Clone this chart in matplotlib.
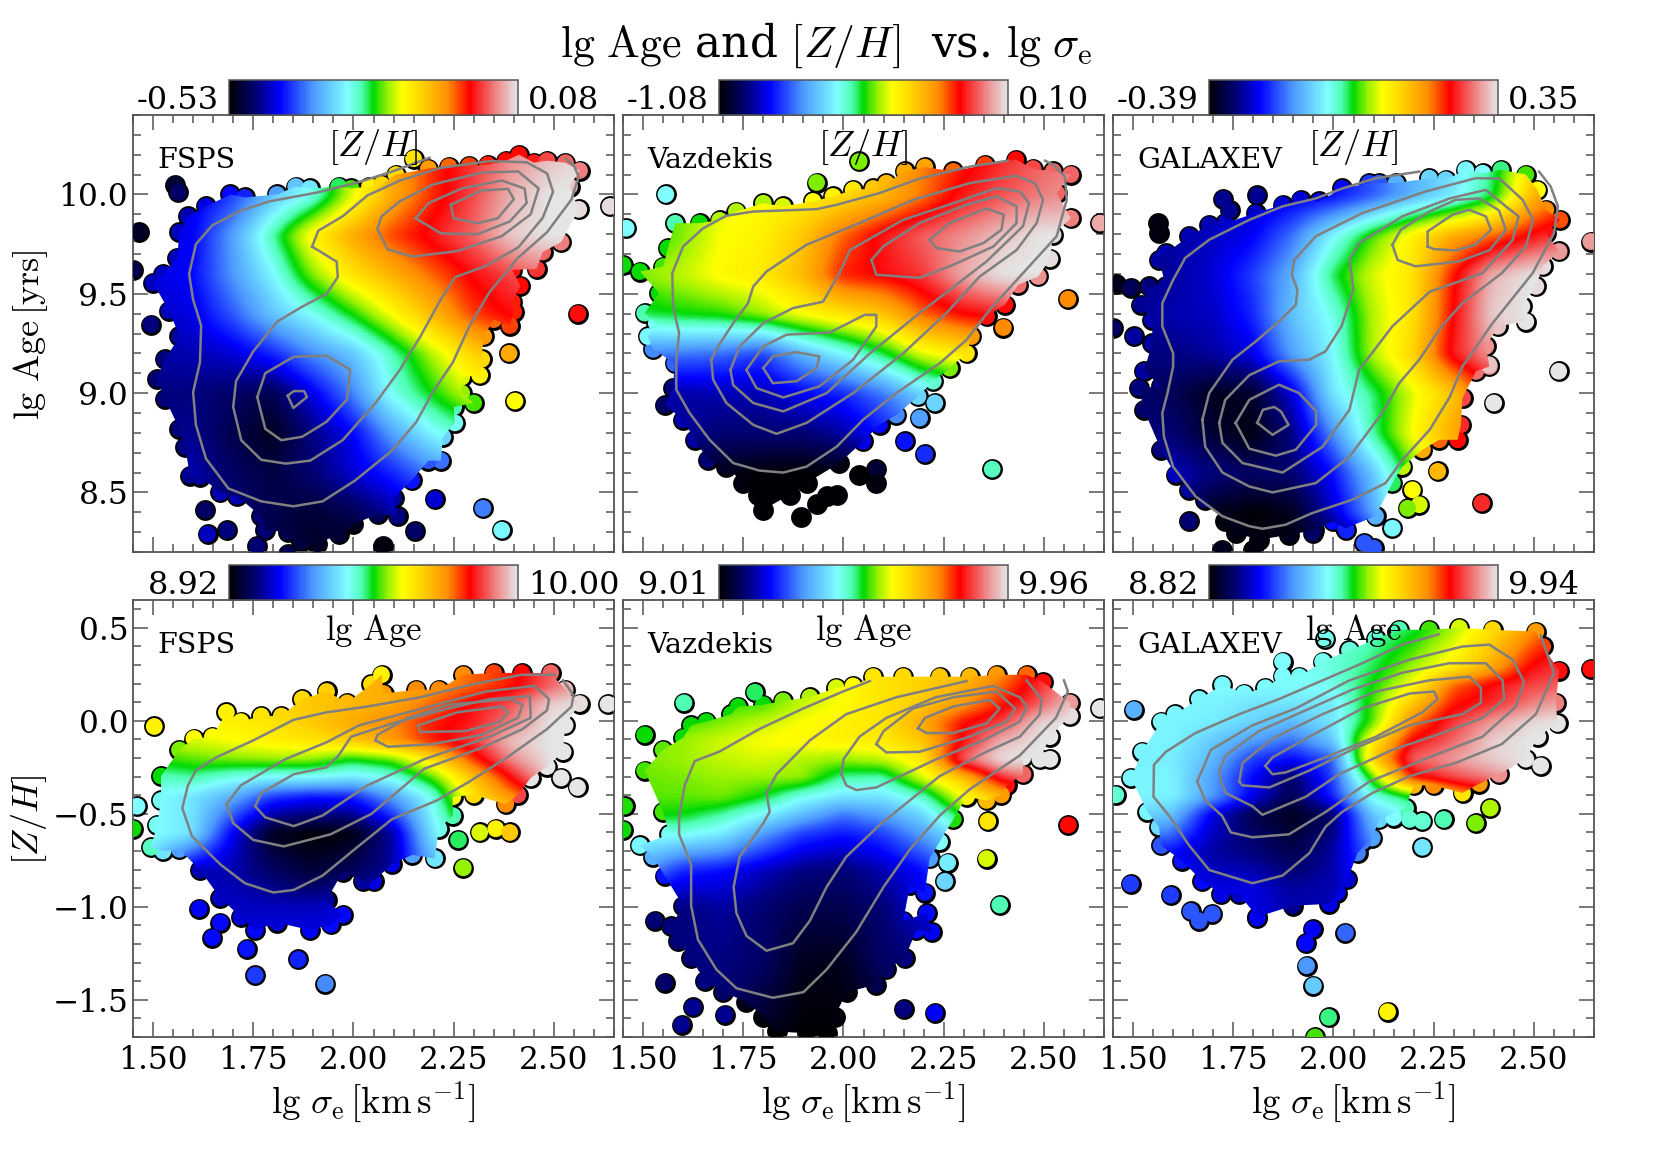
#plot.py
#six panels of lg Age and [Z/H] against lg sigma_e
import numpy as np
import matplotlib
matplotlib.use("Agg")
import matplotlib.pyplot as plt
from matplotlib.colors import LinearSegmentedColormap, Normalize
from matplotlib.cm import ScalarMappable
from matplotlib.path import Path
from matplotlib.ticker import MultipleLocator

plt.rcParams["font.family"] = "DejaVu Serif"
plt.rcParams["mathtext.fontset"] = "cm"

#colour values below are positions along the colourbar, 0 to 100
FIELD_X = [1.48, 1.6, 1.7, 1.8, 1.9, 2.0, 2.1, 2.2, 2.3, 2.4, 2.5, 2.6]

#### top left: FSPS, lg Age, coloured by [Z/H]
A1_Y = [8.2, 8.4, 8.6, 8.8, 9.0, 9.2, 9.4, 9.6, 9.8, 10.0, 10.25]
A1_FIELD = [
    [10,10,9,6,3,3,6,10,14,18,20,22],
    [10,11,10,6,4,6,12,18,24,28,30,32],
    [12,13,8,5,9,15,20,27,33,36,38,40],
    [11,11,6,2,10,17,30,40,46,50,52,54],
    [10,10,8,6,16,27,42,50,58,62,64,66],
    [12,13,15,20,28,34,45,56,66,74,78,80],
    [14,16,24,34,41,50,60,70,80,84,86,88],
    [15,18,29,40,54,64,71,78,84,88,92,95],
    [14,17,30,46,62,72,80,85,90,98,100,100],
    [16,16,22,34,42,58,72,81,88,96,100,100],
    [16,16,22,34,42,58,72,81,86,92,96,100]]
A1_EDGE = [(1.587,9.89,13),(1.632,9.94,16),(1.693,10.0,18),(1.729,9.985,20),(1.809,10.0,30),(1.856,10.04,34),
    (1.891,10.03,38),(1.963,10.04,48),(1.994,10.03,52),(2.04,10.04,62),(2.07,10.05,66),(2.106,10.10,66),
    (2.187,10.13,74),(2.238,10.14,78),(2.289,10.145,80),(2.335,10.15,82),(2.38,10.17,83),(2.413,10.2,83),
    (2.45,10.16,85),(2.483,10.17,88),(2.529,10.16,90),(2.564,10.12,92),(2.539,10.04,97),(2.562,9.925,99),
    (2.518,9.76,92),(2.472,9.71,90),(2.457,9.625,87),(2.396,9.62,84),(2.416,9.54,83),(2.396,9.46,82),
    (2.40,9.41,82),(2.39,9.34,80),(2.35,9.37,78),(2.325,9.285,74),(2.32,9.17,66),(2.315,9.09,62),
    (2.27,9.08,58),(2.27,9.0,55),(2.30,8.95,52),(2.25,8.93,46),(2.253,8.85,42),(2.223,8.78,36),
    (2.218,8.66,26),(2.187,8.66,24),(2.145,8.56,19),(2.10,8.47,12),(2.11,8.38,10),(2.06,8.39,7),
    (2.0,8.34,2),(1.963,8.29,4),(1.91,8.24,3),(1.87,8.25,5),(1.836,8.30,6),(1.78,8.31,9),(1.77,8.38,9),
    (1.71,8.48,13),(1.668,8.50,13),(1.617,8.58,12),(1.592,8.585,11),(1.58,8.73,10),(1.566,8.82,10),
    (1.53,8.97,9),(1.51,9.07,9),(1.53,9.17,10),(1.566,9.285,12),(1.54,9.415,14),(1.50,9.555,14),
    (1.525,9.60,14),(1.56,9.68,14),(1.566,9.81,14)]
A1_OUT = [(1.556,10.05,4),(1.563,10.01,8),(1.464,9.81,3),(1.45,9.62,6),(1.495,9.345,10),(2.15,10.18,64),
    (2.64,9.94,99),(2.56,9.40,84),(2.388,9.2,72),(2.403,8.96,60),(2.323,8.42,27),(2.37,8.31,40),
    (2.203,8.465,15),(2.154,8.305,8),(2.073,8.23,1),(1.63,8.41,8),(1.636,8.29,14),(1.685,8.31,10),
    (1.76,8.23,9),(1.836,8.19,6)]
A1_LINES = [
    [(2.19,10.185),(2.096,10.115),(2.01,10.06),(1.91,10.01),(1.79,9.965),(1.72,9.92),(1.648,9.845),(1.607,9.75),
     (1.59,9.60),(1.60,9.47),(1.62,9.34),(1.617,9.155),(1.60,9.005),(1.607,8.84),(1.632,8.67),(1.688,8.52),
     (1.77,8.455),(1.85,8.43),(1.923,8.455),(2.004,8.56),(2.096,8.71),(2.157,8.855),(2.198,9.005),(2.248,9.155),
     (2.29,9.34),(2.34,9.51),(2.41,9.68),(2.483,9.81),(2.544,9.975),(2.562,10.09),(2.55,10.145),(2.53,10.18)],
    [(1.897,9.737),(1.912,9.817),(1.973,9.89),(2.035,9.995),(2.116,10.07),(2.218,10.134),(2.34,10.168),(2.432,10.162),
     (2.483,10.106),(2.498,10.013),(2.472,9.882),(2.411,9.733),(2.33,9.64),(2.254,9.584),(2.218,9.472),(2.167,9.285),
     (2.116,9.118),(2.055,8.95),(1.973,8.763),(1.892,8.66),(1.831,8.645),(1.77,8.664),(1.72,8.763),(1.70,8.93),
     (1.707,9.06),(1.75,9.21),(1.81,9.36),(1.872,9.435),(1.933,9.50),(1.961,9.584),(1.958,9.662),(1.897,9.737)],
    [(2.06,9.826),(2.07,9.89),(2.116,9.966),(2.198,10.05),(2.32,10.11),(2.411,10.116),(2.462,10.03),(2.442,9.90),
     (2.37,9.79),(2.259,9.715),(2.147,9.687),(2.085,9.724),(2.06,9.826)],
    [(1.76,8.98),(1.78,9.10),(1.851,9.183),(1.933,9.188),(1.992,9.118),(1.984,8.968),(1.933,8.856),(1.872,8.78),
     (1.82,8.763),(1.78,8.82),(1.76,8.98)],
    [(2.155,9.88),(2.188,9.957),(2.27,10.03),(2.37,10.07),(2.427,10.03),(2.432,9.957),(2.39,9.864),(2.31,9.80),
     (2.218,9.804),(2.155,9.88)],
    [(2.243,9.948),(2.32,10.02),(2.386,10.028),(2.40,9.976),(2.36,9.88),(2.31,9.855),(2.25,9.88),(2.243,9.948)],
    [(1.836,8.987),(1.851,9.01),(1.877,9.01),(1.884,8.98),(1.85,8.925),(1.836,8.987)]]

#### top middle: Vazdekis
A2_Y = [8.2, 8.4, 8.6, 8.8, 9.0, 9.2, 9.4, 9.6, 9.8, 10.0, 10.25]
A2_FIELD = [
    [4,3,2,0,0,0,1,6,10,14,16,18],
    [6,4,1,0,0,0,2,8,14,18,20,22],
    [10,8,2,0,0,1,10,18,24,28,30,32],
    [12,12,9,9,9,12,19,24,30,34,36,38],
    [14,12,13,13,17,20,26,36,42,46,48,50],
    [27,26,25,22,32,40,48,58,63,68,70,72],
    [48,50,51,55,60,64,68,78,83,85,88,90],
    [54,57,61,63,70,82,84,87,95,100,100,100],
    [50,54,60,62,68,78,85,90,93,97,100,100],
    [52,54,58,60,62,65,70,77,85,89,92,94],
    [54,54,56,58,60,64,70,76,80,85,89,92]]
A2_EDGE = [(1.58,9.855,46),(1.641,9.856,50),(1.691,9.87,56),(1.733,9.914,56),(1.80,9.956,56),(1.849,9.94,58),
    (1.924,9.965,60),(1.974,9.99,62),(2.024,10.023,64),(2.074,10.03,68),(2.107,10.057,70),(2.153,10.116,72),
    (2.203,10.138,73),(2.274,10.116,78),(2.353,10.15,80),(2.43,10.175,83),(2.473,10.13,88),(2.523,10.116,90),
    (2.567,10.1,90),(2.532,10.007,90),(2.567,9.88,92),(2.523,9.797,99),(2.515,9.676,99),(2.486,9.587,93),
    (2.436,9.545,91),(2.403,9.445,84),(2.357,9.386,84),(2.319,9.285,74),(2.307,9.20,64),(2.265,9.126,54),
    (2.224,9.06,44),(2.186,8.983,36),(2.132,8.89,28),(2.09,8.84,18),(2.049,8.757,16),(1.99,8.648,1),
    (1.908,8.547,0),(1.866,8.488,0),(1.80,8.413,0),(1.788,8.488,0),(1.75,8.547,1),(1.708,8.63,3),
    (1.662,8.664,9),(1.629,8.765,12),(1.60,8.866,13),(1.554,8.94,8),(1.575,9.025,10),(1.579,9.15,25),
    (1.525,9.22,28),(1.512,9.285,40),(1.533,9.352,42),(1.504,9.403,46),(1.54,9.503,50),(1.492,9.612,50),
    (1.55,9.637,52),(1.562,9.73,50)]
A2_OUT = [(1.557,10.0,41),(1.458,9.83,41),(1.45,9.645,50),(1.933,10.06,54),(2.039,10.166,54),(2.64,9.856,95),
    (2.56,9.473,76),(2.399,9.33,76),(2.228,8.95,36),(2.19,8.874,30),(2.153,8.757,19),(2.203,8.693,21),
    (2.371,8.617,45),(2.082,8.617,4),(2.04,8.59,0),(2.082,8.547,1),(1.983,8.488,0),(1.958,8.48,0),
    (1.934,8.443,0),(1.893,8.374,0)]
A2_LINES = [
    [(2.41,10.17),(2.315,10.14),(2.19,10.08),(2.09,10.007),(1.983,9.948),(1.933,9.926),(1.858,9.92),(1.775,9.914),
     (1.708,9.893),(1.65,9.83),(1.60,9.738),(1.573,9.604),(1.575,9.436),(1.59,9.302),(1.583,9.168),(1.583,9.017),
     (1.616,8.90),(1.666,8.765),(1.725,8.648),(1.79,8.61),(1.85,8.60),(1.908,8.63),(1.983,8.73),(2.049,8.866),
     (2.132,9.0),(2.24,9.15),(2.307,9.268),(2.365,9.42),(2.448,9.604),(2.532,9.79),(2.557,9.973),(2.552,10.09),
     (2.523,10.15),(2.503,10.17)],
    [(1.67,9.168),(1.687,9.235),(1.725,9.352),(1.762,9.453),(1.775,9.537),(1.808,9.612),(1.908,9.747),(2.04,9.856),
     (2.174,9.973),(2.315,10.057),(2.43,10.094),(2.478,10.057),(2.498,9.973),(2.482,9.856),(2.432,9.72),(2.34,9.587),
     (2.257,9.403),(2.149,9.2),(2.024,9.0),(1.908,8.85),(1.833,8.795),(1.775,8.84),(1.708,8.95),(1.675,9.067),(1.67,9.168)],
    [(1.718,9.117),(1.741,9.235),(1.80,9.352),(1.874,9.428),(1.949,9.46),(1.99,9.604),(2.016,9.72),(2.149,9.872),
     (2.274,9.956),(2.382,10.032),(2.44,10.015),(2.463,9.956),(2.448,9.84),(2.357,9.663),(2.19,9.403),(2.066,9.2),
     (1.958,9.0),(1.85,8.908),(1.775,8.95),(1.725,9.04),(1.718,9.117)],
    [(2.07,9.67),(2.10,9.74),(2.19,9.856),(2.307,9.948),(2.382,9.99),(2.432,9.94),(2.432,9.856),(2.374,9.738),
     (2.274,9.646),(2.19,9.58),(2.082,9.596),(2.07,9.67)],
    [(1.758,9.117),(1.80,9.235),(1.858,9.294),(1.966,9.305),(2.053,9.394),(2.082,9.394),(2.082,9.335),(2.024,9.168),
     (1.94,9.034),(1.85,8.978),(1.783,9.025),(1.758,9.117)],
    [(2.215,9.772),(2.265,9.856),(2.357,9.93),(2.40,9.898),(2.394,9.822),(2.349,9.755),(2.29,9.713),(2.232,9.73),(2.215,9.772)],
    [(1.80,9.126),(1.824,9.185),(1.883,9.206),(1.94,9.185),(1.933,9.126),(1.883,9.06),(1.824,9.05),(1.80,9.126)]]

#### top right: GALAXEV
A3_Y = [8.2, 8.4, 8.6, 8.8, 9.0, 9.2, 9.4, 9.6, 9.8, 10.0, 10.25]
A3_FIELD = [
    [10,10,6,2,1,2,10,22,30,36,40,44],
    [10,12,2,0,2,14,30,54,58,62,66,70],
    [12,14,10,8,9,18,34,52,62,70,74,78],
    [10,9,4,1,10,28,46,60,72,80,84,86],
    [9,7,2,3,15,38,47,58,68,82,90,94],
    [10,10,12,16,30,40,56,66,85,94,100,100],
    [11,13,14,20,34,42,56,64,83,98,100,100],
    [10,12,15,22,32,48,58,64,82,96,100,100],
    [10,12,14,17,26,40,52,62,72,78,84,90],
    [12,12,13,14,16,18,24,32,38,48,70,78],
    [12,12,13,14,16,18,24,32,38,46,60,78]]
A3_EDGE = [(1.565,9.67,12),(1.582,9.705,13),(1.64,9.79,13),(1.69,9.847,13),(1.73,9.856,14),(1.806,9.906,14),
    (1.873,9.948,15),(1.918,9.973,15),(1.964,9.965,16),(2.022,10.03,18),(2.089,10.057,22),(2.114,10.057,24),
    (2.156,10.057,32),(2.239,10.082,36),(2.28,10.074,36),(2.33,10.124,40),(2.372,10.107,41),(2.418,10.124,47),
    (2.48,10.1,52),(2.509,10.023,60),(2.53,9.923,76),(2.565,9.872,79),(2.53,9.805,84),(2.563,9.713,94),
    (2.522,9.638,99),(2.505,9.537,99),(2.47,9.436,100),(2.48,9.36,100),(2.41,9.336,97),(2.38,9.235,93),
    (2.389,9.134,94),(2.355,9.109,91),(2.322,8.975,88),(2.318,8.84,86),(2.31,8.765,83),(2.264,8.765,78),
    (2.222,8.715,72),(2.172,8.63,57),(2.147,8.547,48),(2.105,8.38,32),(2.03,8.32,20),(1.998,8.354,18),
    (1.952,8.31,5),(1.89,8.287,2),(1.815,8.262,1),(1.756,8.295,1),(1.73,8.354,1),(1.68,8.463,10),(1.64,8.513,12),
    (1.606,8.59,14),(1.57,8.715,10),(1.527,8.916,8),(1.515,9.025,10),(1.57,9.034,12),(1.527,9.11,12),(1.548,9.25,12),
    (1.548,9.37,13),(1.52,9.445,11),(1.54,9.537,10),(1.582,9.537,12)]
A3_OUT = [(1.563,9.856,1),(1.565,9.805,1),(1.457,9.55,2),(1.494,9.53,7),(1.503,9.285,12),(1.45,9.327,8),
    (1.725,9.977,11),(1.741,9.92,11),(1.81,9.995,11),(2.642,9.763,94),(2.562,9.11,100),(2.40,8.95,100),
    (2.388,9.143,97),(2.37,8.446,86),(2.147,8.32,40),(2.032,8.31,20),(2.077,8.245,24),(2.10,8.22,24),
    (1.64,8.354,9),(1.948,8.295,8),(1.80,8.21,1),(1.723,8.21,2),(2.26,8.606,70),(2.197,8.513,60),(2.214,8.438,58),(2.185,8.42,54)]
A3_LINES = [
    [(2.214,10.115),(2.106,10.082),(2.022,10.03),(1.956,9.98),(1.873,9.94),(1.79,9.872),(1.69,9.772),(1.63,9.68),
     (1.6,9.57),(1.573,9.453),(1.573,9.336),(1.6,9.2),(1.60,9.134),(1.586,9.0),(1.573,8.9),(1.577,8.78),(1.6,8.63),
     (1.656,8.48),(1.723,8.38),(1.79,8.33),(1.823,8.317),(1.88,8.337),(1.947,8.396),(2.047,8.463),(2.13,8.547),
     (2.172,8.664),(2.24,8.815),(2.29,8.98),(2.322,9.134),(2.397,9.352),(2.497,9.604),(2.55,9.805),(2.56,9.94),
     (2.542,10.04),(2.513,10.115)],
    [(1.673,8.866),(1.69,9.0),(1.748,9.168),(1.806,9.26),(1.864,9.36),(1.906,9.445),(1.91,9.52),(1.896,9.596),
     (1.902,9.67),(1.956,9.79),(2.072,9.906),(2.23,10.015),(2.355,10.082),(2.414,10.08),(2.472,9.973),(2.498,9.872),
     (2.48,9.738),(2.42,9.604),(2.322,9.453),(2.27,9.336),(2.214,9.168),(2.164,9.05),(2.122,8.9),(2.04,8.68),
     (1.956,8.547),(1.848,8.5),(1.79,8.53),(1.723,8.6),(1.68,8.73),(1.673,8.866)],
    [(1.715,8.85),(1.73,8.966),(1.79,9.09),(1.864,9.16),(1.94,9.168),(1.98,9.21),(2.02,9.336),(2.05,9.52),(2.04,9.67),
     (2.064,9.755),(2.172,9.89),(2.29,9.98),(2.38,10.023),(2.43,9.94),(2.462,9.89),(2.447,9.77),(2.372,9.604),
     (2.24,9.51),(2.147,9.336),(2.064,9.117),(2.04,8.916),(1.973,8.73),(1.873,8.6),(1.773,8.648),(1.723,8.75),(1.715,8.85)],
    [(2.147,9.747),(2.168,9.822),(2.239,9.914),(2.305,9.973),(2.364,9.98),(2.413,9.92),(2.43,9.822),(2.39,9.72),
     (2.314,9.663),(2.205,9.638),(2.16,9.67),(2.147,9.747)],
    [(1.756,8.85),(1.79,8.966),(1.864,9.042),(1.914,9.0),(1.957,8.908),(1.957,8.84),(1.906,8.715),(1.856,8.685),
     (1.79,8.72),(1.756,8.85)],
    [(2.235,9.738),(2.235,9.814),(2.297,9.898),(2.338,9.923),(2.38,9.89),(2.393,9.822),(2.355,9.747),(2.305,9.718),
     (2.25,9.725),(2.235,9.738)],
    [(1.81,8.85),(1.824,8.916),(1.852,8.93),(1.869,8.908),(1.888,8.84),(1.848,8.79),(1.81,8.85)]]

#### bottom left: FSPS, [Z/H], coloured by lg Age
Z1_Y = [-1.3, -1.0, -0.8, -0.6, -0.4, -0.3, -0.2, -0.1, 0, 0.1, 0.2, 0.3]
Z1_FIELD = [
    [18,18,18,18,18,18,18,18,20,22,24,26],
    [15,15,14,14,14,16,20,24,28,32,34,36],
    [38,13,13,8,4,7,12,30,40,45,50,52],
    [42,38,17,2,0,1,12,38,50,58,62,66],
    [42,38,32,22,19,20,30,42,64,75,86,92],
    [44,46,42,40,40,38,42,52,68,84,99,100],
    [50,53,54,55,55,50,53,64,80,93,100,100],
    [56,58,60,62,64,68,74,82,87,97,100,100],
    [60,60,62,64,68,72,76,82,85,92,100,100],
    [60,62,64,66,68,70,72,78,84,89,98,100],
    [60,62,64,66,68,70,72,74,78,82,90,96],
    [60,62,64,66,68,70,72,74,78,82,90,96]]
Z1_EDGE = [(1.52,-0.297,50),(1.566,-0.156,54),(1.602,-0.095,60),(1.648,-0.085,60),(1.683,0.046,62),(1.719,-0.004,62),
    (1.77,0.026,64),(1.82,0.026,66),(1.872,0.117,66),(1.933,0.158,67),(1.984,0.097,70),(2.045,0.198,66),
    (2.07,0.248,62),(2.075,0.147,74),(2.157,0.168,76),(2.213,0.168,76),(2.274,0.248,76),(2.35,0.258,80),
    (2.42,0.258,83),(2.492,0.258,90),(2.528,0.168,96),(2.564,0.093,99),(2.528,-0.024,100),(2.523,-0.166,100),
    (2.483,-0.246,100),(2.442,-0.307,100),(2.41,-0.398,88),(2.38,-0.448,76),
    (2.30,-0.398,66),(2.248,-0.408,60),(2.248,-0.51,46),(2.213,-0.58,42),(2.203,-0.74,38),(2.147,-0.72,30),
    (2.096,-0.77,16),(2.05,-0.863,16),(2.024,-0.863,12),(1.973,-0.812,9),(1.933,-0.964,11),(1.974,-1.044,18),
    (1.943,-1.095,18),(1.892,-1.125,17),(1.81,-1.085,15),(1.755,-1.125,18),(1.719,-1.055,15),(1.668,-0.953,14),
    (1.617,-0.802,13),(1.566,-0.691,30),(1.525,-0.70,38),(1.495,-0.68,45),(1.51,-0.56,42),(1.52,-0.428,42)]
Z1_OUT = [(1.503,-0.03,62),(1.46,-0.459,41),(1.45,-0.58,50),(2.635,0.09,100),(2.315,-0.60,58),(2.355,-0.58,62),
    (2.39,-0.60,68),(2.262,-0.64,48),(2.274,-0.79,55),(1.615,-1.01,17),(1.668,-1.085,18),(1.648,-1.166,18),
    (1.734,-1.226,19),(1.862,-1.283,20),(1.755,-1.368,22),(1.93,-1.414,28),(2.518,-0.307,100),(2.559,-0.358,100)]
Z1_LINES = [
    [(2.503,0.248),(2.42,0.248),(2.30,0.198),(2.167,0.127),(2.035,0.077),(1.933,0.046),(1.851,0.006),(1.75,-0.105),
     (1.658,-0.196),(1.607,-0.267),(1.587,-0.347),(1.573,-0.469),(1.597,-0.62),(1.668,-0.772),(1.729,-0.873),(1.80,-0.923),
     (1.851,-0.909),(1.923,-0.832),(2.014,-0.671),(2.096,-0.529),(2.208,-0.428),(2.289,-0.327),(2.39,-0.186),(2.483,-0.044),
     (2.544,0.077),(2.549,0.137),(2.523,0.218)],
    [(1.683,-0.448),(1.719,-0.347),(1.83,-0.206),(1.933,-0.115),(2.014,-0.024),(2.33,0.158),(2.452,0.188),(2.488,0.117),
     (2.483,0.057),(2.422,-0.044),(2.32,-0.145),(2.177,-0.257),(2.045,-0.5),(1.943,-0.61),(1.826,-0.675),(1.75,-0.64),
     (1.70,-0.55),(1.683,-0.448)],
    [(1.755,-0.459),(1.77,-0.388),(1.851,-0.287),(1.933,-0.25),(1.963,-0.186),(1.994,-0.085),(2.096,-0.014),(2.238,0.067),
     (2.34,0.117),(2.44,0.133),(2.442,0.016),(2.34,-0.085),(2.177,-0.206),(2.035,-0.347),(1.923,-0.509),(1.851,-0.566),
     (1.78,-0.519),(1.755,-0.459)],
    [(2.055,-0.105),(2.06,-0.075),(2.136,0.016),(2.238,0.087),(2.39,0.117),(2.422,0.087),(2.41,0.016),(2.32,-0.075),
     (2.198,-0.125),(2.086,-0.139),(2.055,-0.105)],
    [(2.162,-0.024),(2.259,0.046),(2.37,0.077),(2.386,0.046),(2.366,-0.004),(2.279,-0.055),(2.167,-0.06),(2.162,-0.024)]]

#### bottom middle: Vazdekis
Z2_Y = [-1.7, -1.3, -1.0, -0.8, -0.6, -0.5, -0.4, -0.3, -0.2, -0.1, 0, 0.1, 0.3]
Z2_FIELD = [
    [12,12,8,2,0,0,0,0,2,4,6,8],
    [10,10,10,8,2,2,8,9,10,12,14,16],
    [10,10,12,9,6,6,9,16,18,20,22,24],
    [32,20,18,14,10,9,13,18,28,30,32,34],
    [42,42,39,30,22,19,22,30,40,44,50,54],
    [50,50,46,40,33,26,30,36,50,60,64,66],
    [53,53,54,50,42,38,38,44,60,70,80,84],
    [53,54,55,55,55,46,45,58,68,86,94,100],
    [54,55,57,58,56,55,57,63,90,100,100,100],
    [54,55,58,60,61,62,63,68,84,96,100,100],
    [52,52,54,57,60,62,64,72,83,88,99,100],
    [50,50,52,52,57,60,64,68,74,82,90,100],
    [50,50,52,52,57,60,64,66,68,74,84,94]]
Z2_EDGE = [(1.504,-0.267,52),(1.55,-0.156,53),(1.60,-0.09,50),(1.62,-0.024,50),(1.658,-0.004,50),(1.72,0.036,50),(1.737,0.077,50),
    (1.80,0.087,50),(1.849,0.107,54),(1.916,0.127,56),(1.982,0.178,58),(2.024,0.188,60),(2.074,0.238,64),
    (2.149,0.238,66),(2.24,0.238,68),(2.315,0.238,70),(2.382,0.248,74),(2.457,0.248,78),(2.498,0.208,84),
    (2.565,0.097,94),(2.565,0.026,99),(2.515,-0.085,100),(2.49,-0.206,100),(2.448,-0.196,100),(2.448,-0.287,90),
    (2.407,-0.347,84),(2.394,-0.398,74),(2.357,-0.428,70),(2.307,-0.408,62),(2.274,-0.529,51),
    (2.24,-0.65,41),(2.215,-0.74,30),(2.203,-0.923,19),(2.166,-0.883,18),(2.149,-1.075,18),(2.208,-1.034,18),
    (2.22,-1.135,17),(2.182,-1.125,18),(2.153,-1.277,10),(2.107,-1.337,8),(2.082,-1.418,6),(2.008,-1.459,1),
    (1.978,-1.59,1),(1.958,-1.68,0),(1.908,-1.68,0),(1.833,-1.67,0),(1.80,-1.59,1),(1.758,-1.51,2),(1.70,-1.459,8),
    (1.654,-1.398,10),(1.62,-1.277,9),(1.587,-1.186,9),(1.57,-1.105,10),(1.60,-0.994,11),(1.554,-0.832,19),
    (1.525,-0.731,32),(1.492,-0.67,40),(1.566,-0.61,42),(1.55,-0.489,52)]
Z2_OUT = [(1.602,0.097,46),(1.779,0.154,48),(1.504,-0.075,50),(1.454,-0.459,51),(1.45,-0.586,50),(2.64,0.067,100),
    (2.561,-0.56,83),(2.357,-0.741,58),(2.26,-0.762,39),(2.253,-0.863,36),(2.39,-0.99,46),(2.515,-0.206,100),
    (1.529,-1.075,9),(1.554,-1.408,8),(2.15,-1.55,10),(2.228,-1.57,17),(1.596,-1.634,11),(1.625,-1.54,11),(1.704,-1.58,11),
    (2.36,-0.54,64)]
Z2_LINES = [
    [(2.066,0.214),(1.999,0.158),(1.90,0.067),(1.79,-0.044),(1.69,-0.166),(1.629,-0.216),(1.604,-0.347),(1.59,-0.51),
     (1.59,-0.61),(1.62,-0.772),(1.62,-0.994),(1.637,-1.176),(1.683,-1.337),(1.733,-1.438),(1.824,-1.489),(1.90,-1.459),
     (1.958,-1.337),(2.032,-1.135),(2.10,-0.893),(2.166,-0.691),(2.24,-0.51),(2.315,-0.368),(2.44,-0.186),(2.53,0.016),
     (2.56,0.158),(2.55,0.218)],
    [(2.307,0.214),(2.132,0.127),(2.007,0.036),(1.916,-0.105),(1.833,-0.287),(1.808,-0.388),(1.816,-0.489),(1.80,-0.55),
     (1.741,-0.731),(1.726,-0.893),(1.733,-1.034),(1.758,-1.156),(1.808,-1.236),(1.874,-1.196),(1.916,-1.075),(1.958,-0.893),
     (2.007,-0.731),(2.09,-0.56),(2.24,-0.297),(2.357,-0.166),(2.44,-0.085),(2.49,0.036),(2.494,0.117),(2.457,0.218)],
    [(1.995,-0.287),(2.0,-0.206),(2.04,-0.085),(2.107,0.016),(2.23,0.127),(2.374,0.188),(2.44,0.127),(2.458,0.077),
     (2.44,-0.004),(2.349,-0.105),(2.232,-0.206),(2.082,-0.358),(2.032,-0.372),(2.007,-0.347),(1.995,-0.287)],
    [(2.082,-0.125),(2.10,-0.055),(2.174,0.067),(2.274,0.127),(2.382,0.158),(2.428,0.067),(2.407,-0.004),(2.315,-0.085),
     (2.19,-0.166),(2.107,-0.17),(2.082,-0.125)],
    [(2.186,-0.04),(2.203,0.016),(2.274,0.077),(2.365,0.113),(2.39,0.067),(2.357,-0.014),(2.274,-0.065),(2.207,-0.065),(2.186,-0.04)]]

#### bottom right: GALAXEV
Z3_Y = [-1.2, -0.9, -0.7, -0.5, -0.4, -0.3, -0.2, -0.1, 0, 0.1, 0.2, 0.3, 0.52]
Z3_FIELD = [
    [20,20,18,16,14,14,14,20,30,40,46,50],
    [20,20,16,16,12,13,20,34,44,54,60,64],
    [22,18,12,10,6,12,26,40,50,60,70,80],
    [38,34,16,6,2,8,34,42,52,68,78,90],
    [40,40,30,17,6,20,42,50,70,80,90,100],
    [40,40,30,18,8,22,52,82,88,92,100,100],
    [40,39,33,22,18,24,66,90,94,98,100,100],
    [40,40,35,30,26,34,62,84,90,98,100,100],
    [40,40,39,36,33,38,52,76,87,94,99,100],
    [40,40,40,38,38,38,52,68,82,86,92,96],
    [41,41,41,41,41,42,50,60,78,84,88,90],
    [41,41,41,41,41,43,48,55,62,72,84,88],
    [41,41,41,41,42,43,44,48,55,64,74,84]]
Z3_EDGE = [(1.495,-0.307,40),(1.523,-0.166,40),(1.57,-0.004,40),(1.605,0.036,40),(1.665,0.117,40),(1.723,0.194,40),
    (1.777,0.147,40),(1.83,0.178,41),(1.873,0.24,41),(1.915,0.238,42),(1.973,0.319,42),(2.04,0.38,43),
    (2.106,0.44,44),(2.164,0.49,46),(2.239,0.49,52),(2.314,0.50,58),(2.397,0.49,66),(2.505,0.48,74),(2.522,0.40,80),
    (2.563,0.27,84),(2.555,0.097,92),(2.559,-0.014,100),(2.51,-0.085,100),(2.48,-0.206,100),(2.413,-0.287,93),
    (2.364,-0.337,74),(2.322,-0.388,64),(2.25,-0.347,76),(2.20,-0.347,70),(2.18,-0.469,46),
    (2.114,-0.53,36),(2.097,-0.63,30),(2.06,-0.71,27),(2.035,-0.853,15),(2.01,-0.923,16),
    (1.99,-0.984,16),(1.898,-0.994,11),(1.81,-1.055,13),(1.765,-0.933,14),(1.72,-0.933,16),(1.673,-0.863,18),
    (1.622,-0.752,19),(1.57,-0.67,24),(1.565,-0.57,37),(1.536,-0.489,40)]
Z3_OUT = [(1.502,0.06,32),(1.457,-0.398,44),(1.494,-0.877,22),(1.594,-0.937,22),(1.644,-1.024,24),(1.698,-1.038,24),
    (1.665,-1.075,24),(1.81,-1.06,17),(1.948,-1.12,17),(2.03,-1.14,25),(1.931,-1.196,18),(1.933,-1.317,29),
    (1.95,-1.424,35),(1.988,-1.594,47),(2.135,-1.564,62),(1.954,-1.70,52),(2.222,-0.68,38),(2.275,-0.53,46),
    (2.355,-0.55,54),(2.391,-0.469,56),(2.642,0.279,84),(2.072,-0.65,27),(1.873,0.319,41),(1.98,0.44,42),
    (2.517,-0.242,100),(2.222,-0.54,44),(2.15,-0.52,41),(2.19,-0.53,44)]
Z3_LINES = [
    [(2.262,0.465),(2.172,0.41),(2.072,0.31),(1.973,0.218),(1.864,0.117),(1.765,0.036),(1.656,-0.065),(1.582,-0.166),
     (1.552,-0.236),(1.551,-0.408),(1.59,-0.51),(1.64,-0.67),(1.69,-0.802),(1.798,-0.873),(1.873,-0.832),(1.94,-0.711),
     (1.98,-0.57),(2.022,-0.489),(2.097,-0.388),(2.19,-0.297),(2.305,-0.226),(2.42,-0.125),(2.505,0.036),(2.55,0.259),
     (2.53,0.38),(2.517,0.46)],
    [(1.66,-0.327),(1.694,-0.156),(1.798,-0.024),(1.906,0.067),(2.04,0.218),(2.19,0.329),(2.322,0.40),(2.389,0.41),
     (2.447,0.329),(2.476,0.208),(2.455,0.077),(2.372,-0.085),(2.239,-0.196),(2.089,-0.327),(1.981,-0.489),(1.889,-0.61),
     (1.798,-0.626),(1.744,-0.6),(1.722,-0.51),(1.68,-0.428),(1.66,-0.327)],
    [(1.716,-0.267),(1.731,-0.186),(1.814,-0.055),(1.931,0.057),(2.047,0.168),(2.172,0.259),(2.289,0.31),(2.38,0.31),
     (2.422,0.218),(2.426,0.117),(2.372,0.016),(2.272,-0.065),(2.147,-0.156),(2.014,-0.287),(1.931,-0.408),(1.823,-0.505),
     (1.798,-0.459),(1.731,-0.388),(1.719,-0.327),(1.716,-0.267)],
    [(1.765,-0.327),(1.773,-0.226),(1.848,-0.095),(1.973,0.036),(2.106,0.158),(2.239,0.218),(2.339,0.238),(2.368,0.178),
     (2.368,0.097),(2.322,0.036),(2.189,-0.024),(2.056,-0.145),(1.94,-0.267),(1.84,-0.358),(1.773,-0.347),(1.765,-0.327)],
    [(1.83,-0.242),(1.848,-0.287),(1.881,-0.277),(1.98,-0.196),(2.106,-0.085),(2.222,0.046),(2.26,0.117),(2.251,0.158),
     (2.19,0.147),(2.072,0.067),(1.94,-0.085),(1.848,-0.196),(1.83,-0.242)]]

MODELS = ["FSPS", "Vazdekis", "GALAXEV"]
AGE_LIMITS = [("-0.53", "0.08"), ("-1.08", "0.10"), ("-0.39", "0.35")]
ZH_LIMITS = [("8.92", "10.00"), ("9.01", "9.96"), ("8.82", "9.94")]

#colourbar scale, black through blue, cyan, green, yellow, red to light grey
cmap = LinearSegmentedColormap.from_list("sauron_like", [
    (0.00, (0.0, 0.0, 0.02)), (0.10, (0.0, 0.0, 0.5)), (0.175, (0.0, 0.0, 1.0)), (0.29, (0.3, 0.6, 1.0)),
    (0.41, (0.5, 1.0, 1.0)), (0.46, (0.3, 1.0, 0.7)), (0.50, (0.0, 0.85, 0.0)), (0.55, (0.6, 0.95, 0.0)),
    (0.60, (1.0, 1.0, 0.0)), (0.66, (1.0, 0.85, 0.0)), (0.76, (1.0, 0.55, 0.0)), (0.835, (1.0, 0.0, 0.0)),
    (0.93, (0.93, 0.55, 0.55)), (1.00, (0.9, 0.9, 0.9))])
norm = Normalize(0, 100)

fig = plt.figure(figsize=(16.61, 11.53), dpi=100)
W, H = 1661.0, 1153.0
lefts = [133, 623, 1113]
bar_lefts = [229, 719, 1209]
GREY = "#555555"

def box_blur(a, n, axis):
    #running mean, padded at the ends so the borders do not fade
    pad = [(0, 0), (0, 0)]
    pad[axis] = (n, n)
    b = np.cumsum(np.pad(a, pad, mode="edge"), axis=axis)
    if axis == 0:
        return (b[2 * n:] - b[:-2 * n])[:a.shape[0]] / (2 * n)
    return (b[:, 2 * n:] - b[:, :-2 * n])[:, :a.shape[1]] / (2 * n)

def draw_panel(ax, field_y, field, edge, out, lines):
    #black rims first, colours over them, then the smooth field inside the rim
    pts = np.array(edge + out)
    ax.scatter(pts[:, 0], pts[:, 1], s=225, c="black", linewidths=0, zorder=2)
    ax.scatter(pts[:, 0], pts[:, 1], s=145, c=pts[:, 2], cmap=cmap, norm=norm, linewidths=0, zorder=3)
    #resample the read grid to a fine one and soften its kinks
    fx = np.linspace(FIELD_X[0], FIELD_X[-1], 300)
    fy = np.linspace(field_y[0], field_y[-1], 300)
    grid = np.array([np.interp(fx, FIELD_X, row) for row in field])
    grid = np.array([np.interp(fy, field_y, col) for col in grid.T]).T
    for _ in range(2):
        grid = box_blur(grid, 4, 0)
        grid = box_blur(grid, 4, 1)
    im = ax.imshow(grid, extent=[fx[0], fx[-1], fy[0], fy[-1]], origin="lower", aspect="auto",
                   cmap=cmap, norm=norm, interpolation="bilinear", zorder=4)
    rim = np.array(edge)[:, :2]
    im.set_clip_path(Path(np.vstack([rim, rim[:1]])), ax.transData)
    for line in lines:
        xy = np.array(line)
        ax.plot(xy[:, 0], xy[:, 1], color="#808080", lw=1.8, zorder=5)

def style_axes(ax):
    ax.xaxis.set_major_locator(MultipleLocator(0.25))
    ax.xaxis.set_minor_locator(MultipleLocator(0.05))
    ax.yaxis.set_major_locator(MultipleLocator(0.5))
    ax.yaxis.set_minor_locator(MultipleLocator(0.1))
    ax.tick_params(which="major", direction="in", top=True, right=True, length=11, width=1.1, color=GREY, labelsize=22.5)
    ax.tick_params(which="minor", direction="in", top=True, right=True, length=5.5, width=1.1, color=GREY)
    for s in ax.spines.values():
        s.set_color(GREY)
        s.set_linewidth(1.3)

def draw_bar(left, bottom_px, labels):
    cax = fig.add_axes([left / W, bottom_px / H, 289 / W, 35 / H])
    cb = fig.colorbar(ScalarMappable(norm=norm, cmap=cmap), cax=cax, orientation="horizontal")
    cb.set_ticks([])
    cb.outline.set_edgecolor(GREY)
    cb.outline.set_linewidth(1.1)
    cax.text(-0.035, 0.42, labels[0], transform=cax.transAxes, ha="right", va="center", fontsize=23)
    cax.text(1.035, 0.42, labels[1], transform=cax.transAxes, ha="left", va="center", fontsize=23)

age_data = [(A1_Y, A1_FIELD, A1_EDGE, A1_OUT, A1_LINES),
            (A2_Y, A2_FIELD, A2_EDGE, A2_OUT, A2_LINES),
            (A3_Y, A3_FIELD, A3_EDGE, A3_OUT, A3_LINES)]
zh_data = [(Z1_Y, Z1_FIELD, Z1_EDGE, Z1_OUT, Z1_LINES),
           (Z2_Y, Z2_FIELD, Z2_EDGE, Z2_OUT, Z2_LINES),
           (Z3_Y, Z3_FIELD, Z3_EDGE, Z3_OUT, Z3_LINES)]

for i in range(3):
    #top row
    ax = fig.add_axes([lefts[i] / W, 601 / H, 481 / W, 437 / H])
    draw_panel(ax, *age_data[i])
    ax.set_xlim(1.45, 2.65)
    ax.set_ylim(8.2, 10.4)
    style_axes(ax)
    ax.set_xticklabels([])
    ax.text(0.05, 0.895, MODELS[i], transform=ax.transAxes, ha="left", va="center", fontsize=20.5, zorder=8)
    ax.text(0.5, 0.927, r"$[Z/H]$", transform=ax.transAxes, ha="center", va="center", fontsize=26, zorder=8)
    draw_bar(bar_lefts[i], 1038, AGE_LIMITS[i])
    if i == 0:
        ax.set_yticks([8.5, 9.0, 9.5, 10.0])
        ax.set_yticklabels(["8.5", "9.0", "9.5", "10.0"])
    else:
        ax.set_yticklabels([])

    #bottom row
    ax = fig.add_axes([lefts[i] / W, 116 / H, 481 / W, 437 / H])
    draw_panel(ax, *zh_data[i])
    ax.set_xlim(1.45, 2.65)
    ax.set_ylim(-1.7, 0.65)
    style_axes(ax)
    ax.xaxis.set_major_formatter(plt.FormatStrFormatter("%.2f"))
    ax.tick_params(axis="x", pad=6)
    ax.text(0.05, 0.895, MODELS[i], transform=ax.transAxes, ha="left", va="center", fontsize=20.5, zorder=8)
    ax.text(0.5, 0.93, r"$\lg\,{\rm Age}$", transform=ax.transAxes, ha="center", va="center", fontsize=25, zorder=8)
    ax.set_xlabel(r"$\lg\,\sigma_{\rm e}\,[{\rm km\,s^{-1}}]$", fontsize=26.5, labelpad=2)
    draw_bar(bar_lefts[i], 553, ZH_LIMITS[i])
    if i > 0:
        ax.set_yticklabels([])

fig.text(31 / W, 1 - 335 / H, r"$\lg\,{\rm Age}\,[{\rm yrs}]$", rotation=90, ha="center", va="center", fontsize=26)
fig.text(29 / W, 1 - 820 / H, r"$[Z/H]$", rotation=90, ha="center", va="center", fontsize=26)
fig.text(826 / W, 1 - 45 / H, r"$\lg\,{\rm Age}$ and $[Z/H]$  vs. $\lg\,\sigma_{\rm e}$", ha="center", va="center", fontsize=31.5)

fig.savefig("out.png", dpi=100)
